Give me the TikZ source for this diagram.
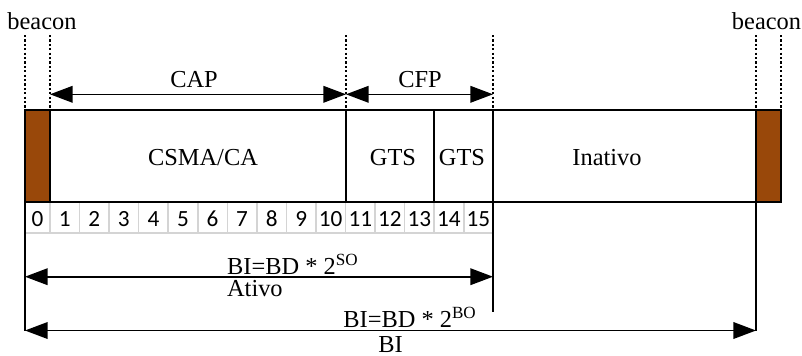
\documentclass[tikz,border=0pt]{standalone}
\usepackage{fontspec}
\setmainfont{Liberation Serif}
\newfontfamily\cellfont{Carlito}
\usetikzlibrary{arrows.meta}
\definecolor{beaconbrown}{RGB}{153,72,10}
\definecolor{cellgray}{RGB}{212,212,212}
\begin{document}
\begin{tikzpicture}[x=0.5pt,y=-0.5pt,
  lbl/.style={inner sep=0pt, anchor=base, font=\fontsize{12.2}{14}\selectfont},
  numlbl/.style={inner sep=0pt, anchor=base, font=\cellfont\fontsize{11.6}{13}\selectfont},
  frame/.style={line width=0.9pt, black},
  divider/.style={line width=0.8pt, black},
  beaconbox/.style={fill=beaconbrown, draw=black, line width=0.9pt},
  cellline/.style={line width=0.8pt, cellgray},
  guide/.style={line width=0.6pt, dash pattern=on 1.1pt off 1.1pt},
  dimarrow/.style={line width=0.8pt, {Triangle[length=11.3pt,width=8.3pt]}-{Triangle[length=11.3pt,width=8.3pt]}}
]
\useasboundingbox (0,0) rectangle (802,355);

% key coordinates
\coordinate (TL) at (25,110);
\coordinate (BR) at (781,202);
\coordinate (BL) at (25,202);
\coordinate (TR) at (781,110);

% beacons
\filldraw[beaconbox] (25,110) rectangle (50,202);
\filldraw[beaconbox] (756,110) rectangle (781,202);

% cell grid (gray)
\foreach \i in {1,...,15} {
  \draw[cellline] ({50+29.55*(\i-1)},202) -- ({50+29.55*(\i-1)},232.7);
}
\draw[cellline] (25,232.7) -- (493,232.7);

% main frame
\draw[frame] (TL) rectangle (BR);
\draw[divider] (346,110) -- (346,202);
\draw[divider] (434,110) -- (434,202);
\draw[divider] (493,110) -- (493,202);

% long vertical lines
\coordinate (L0) at (25,330.5);
\coordinate (M0) at (493,312);
\coordinate (R0) at (756,330.5);
\draw[divider] (BL) -- (L0);
\draw[divider] (493,202) -- (M0);
\draw[divider] (756,202) -- (R0);

% dotted guides
\foreach \x in {25,50,346,493,756,781} {
  \draw[guide] (\x,35) -- (\x,110);
}

% period arrows
\coordinate (capL) at (50,94.3);
\coordinate (capR) at (346,94.3);
\coordinate (cfpR) at (493,94.3);
\draw[dimarrow] (capL) -- (capR);
\draw[dimarrow] (capR) -- (cfpR);

\coordinate (atL) at (25,276.7);
\coordinate (atR) at (493,276.7);
\draw[dimarrow] (atL) -- (atR);

\coordinate (biL) at (25,330.5);
\coordinate (biR) at (756,330.5);
\draw[dimarrow] (biL) -- (biR);

% labels
\node[lbl] (beaconL) at (42,29.5) {beacon};
\node[lbl] (beaconR) at (766.5,29.5) {beacon};
\node[lbl] (cap) at (194,87.5) {CAP};
\node[lbl] (cfp) at (420,87.5) {CFP};
\node[lbl] (csma) at (203,165) {CSMA/CA};
\node[lbl] (gts1) at (393,165.5) {GTS};
\node[lbl] (gts2) at (462,165.5) {GTS};
\node[lbl] (inativo) at (607,165.5) {Inativo};

\node[lbl, anchor=base west] (biso) at (226.7,274) {BI=BD * 2\textsuperscript{SO}};
\node[lbl, anchor=base west] (ativo) at (226.7,296) {Ativo};
\node[lbl, anchor=base west] (bibo) at (343,327.5) {BI=BD * 2\textsuperscript{BO}};
\node[lbl, anchor=base west, text depth=0pt] (bi) at (378,352.5) {BI};

% slot numbers
\node[numlbl] (n0) at (37.5,226.7) {0};
\foreach \i in {1,...,15} {
  \node[numlbl] (n\i) at ({50+29.55*(\i-0.5)},226.7) {\i};
}
\end{tikzpicture}
\end{document}
